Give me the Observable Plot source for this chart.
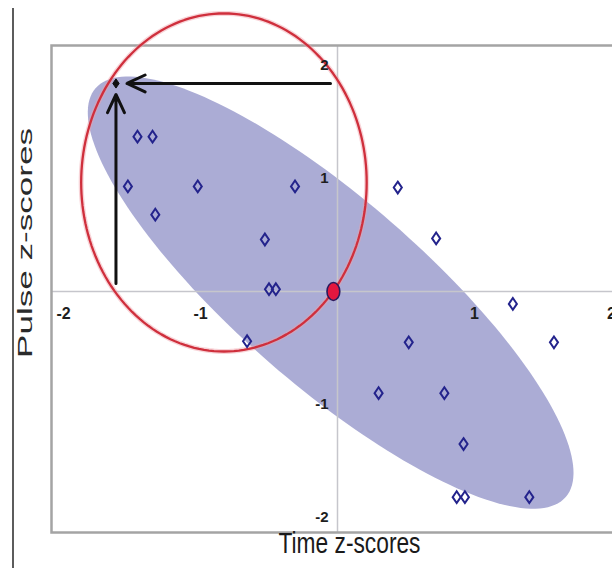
<!DOCTYPE html>
<html>
<head>
<meta charset="utf-8">
<script src="https://cdn.jsdelivr.net/npm/d3@7"></script>
<script src="https://cdn.jsdelivr.net/npm/@observablehq/plot@0.6"></script>
<style>
  body { margin: 0; background: #fff; }
  #wrap { position: relative; width: 612px; height: 568px; overflow: hidden; }
  #edge { position: absolute; left: 12px; top: 8px; bottom: 0; border-left: 2px solid #5c5c5c; }
</style>
</head>
<body>
<div id="wrap"><div id="edge"></div></div>
<script>
// Standardised scores for each case
const timeZ  = [-1.46, -1.35, -1.53, -1.02, -0.31, -1.33, -0.53, -0.50, -0.45, 0.44, 0.72,
                 1.28,  0.52,  1.58,  0.30,  0.78,  0.92,  0.87,  0.93,  1.40, -0.66];
const pulseZ = [ 1.37,  1.37,  0.93,  0.93,  0.93,  0.68,  0.46,  0.02,  0.02, 0.92, 0.47,
                -0.11, -0.45, -0.45, -0.90, -0.90, -1.35, -1.82, -1.82, -1.82, -0.44];

// Highlighted case and the centroid
const targetTime = -1.617, targetPulse = 1.841;
const centroidTime = -0.03, centroidPulse = 0;

// Axis tick labels and titles
const xTicks = [-2, -1, 1, 2];
const yTicks = [-2, -1, 1, 2];
const xTitle = "Time z-scores";
const yTitle = "Pulse z-scores";

// Spread ellipse: centre and two conjugate semi-diameters (z units)
const spreadCenter = [-0.05, -0.01];
const spreadAxisA  = [1.716, -1.809];
const spreadAxisB  = [-0.445, -0.621];

// Neighbourhood ring around the highlighted case (z units)
const ringCenter = [-0.829, 0.965];
const ringRadii  = [1.042, 1.496];

const points = timeZ.map((t, i) => ({time: t, pulse: pulseZ[i]}));
const target = [{time: targetTime, pulse: targetPulse}];
const centroid = [{time: centroidTime, pulse: centroidPulse}];

const angles = d3.range(0, 360, 2).map(a => a * Math.PI / 180);
const spreadOutline = angles.map(a => ({
  time:  spreadCenter[0] + spreadAxisA[0] * Math.cos(a) + spreadAxisB[0] * Math.sin(a),
  pulse: spreadCenter[1] + spreadAxisA[1] * Math.cos(a) + spreadAxisB[1] * Math.sin(a)
}));
const ringOutline = angles.map(a => ({
  time:  ringCenter[0] + ringRadii[0] * Math.cos(a),
  pulse: ringCenter[1] + ringRadii[1] * Math.sin(a)
}));

// Tall rhombus marker
const rhombus = {
  draw(ctx, size) {
    const r = Math.sqrt(size / Math.PI), w = r * 0.72, h = r * 1.05;
    ctx.moveTo(0, -h); ctx.lineTo(w, 0); ctx.lineTo(0, h); ctx.lineTo(-w, 0); ctx.closePath();
  }
};
// Tall oval marker
const oval = {
  draw(ctx, size) {
    const r = Math.sqrt(size / Math.PI), w = r * 0.8, h = r * 1.12, k = 0.5523;
    ctx.moveTo(0, -h);
    ctx.bezierCurveTo(k * w, -h, w, -k * h, w, 0);
    ctx.bezierCurveTo(w, k * h, k * w, h, 0, h);
    ctx.bezierCurveTo(-k * w, h, -w, k * h, -w, 0);
    ctx.bezierCurveTo(-w, -k * h, -k * w, -h, 0, -h);
    ctx.closePath();
  }
};

const tickFont = "'Liberation Sans Narrow', 'Arial Narrow', 'Liberation Sans', sans-serif";

const chart = Plot.plot({
  width: 612,
  height: 568,
  marginLeft: 51,
  marginRight: -11,
  marginTop: 45,
  marginBottom: 36,
  style: {background: "transparent", overflow: "visible"},
  x: {domain: [-2.0876, 2.0876], axis: null},
  y: {domain: [-2.133, 2.177], axis: null},
  marks: [
    Plot.line(spreadOutline, {x: "time", y: "pulse", curve: "linear-closed",
      fill: "#abacd5", stroke: "none"}),
    Plot.ruleX([0], {stroke: "#c6c6cc", strokeWidth: 1.5}),
    Plot.ruleY([0], {stroke: "#c6c6cc", strokeWidth: 1.5}),
    Plot.frame({stroke: "#a4a4a4", strokeWidth: 2.5}),
    Plot.line(ringOutline, {x: "time", y: "pulse", curve: "linear-closed",
      stroke: "#f0a0a8", strokeWidth: 5, strokeOpacity: 0.45}),
    Plot.line(ringOutline, {x: "time", y: "pulse", curve: "linear-closed",
      stroke: "#cf2f3c", strokeWidth: 2.3}),
    Plot.dot(points, {x: "time", y: "pulse", symbol: rhombus, r: 5.6,
      stroke: "#23238c", strokeWidth: 2, fill: "none"}),
    Plot.arrow(target, {x1: 0, y1: "pulse", x2: "time", y2: "pulse",
      insetStart: 7, insetEnd: 11, headLength: 10, headAngle: 50,
      stroke: "#111", strokeWidth: 3}),
    Plot.arrow(target, {x1: "time", y1: 0, x2: "time", y2: "pulse",
      insetStart: 8, insetEnd: 11, headLength: 10, headAngle: 50,
      stroke: "#111", strokeWidth: 3}),
    Plot.dot(target, {x: "time", y: "pulse", symbol: rhombus, r: 4.4,
      fill: "#111", stroke: "#111", strokeWidth: 1}),
    Plot.dot(centroid, {x: "time", y: "pulse", symbol: oval, r: 8,
      fill: "#e3173e", stroke: "#2b1b5c", strokeWidth: 1.6}),
    Plot.text(xTicks, {x: d => d, y: 0, text: d => String(d), dy: 22,
      fontSize: 16, fontWeight: "bold", fill: "#1e1e1e", fontFamily: tickFont}),
    Plot.text(yTicks, {x: 0, y: d => d, text: d => String(d), dx: -9, textAnchor: "end",
      fontSize: 15, fontWeight: "bold", fill: "#1e1e1e", fontFamily: tickFont}),
    Plot.text([xTitle], {frameAnchor: "bottom", textAnchor: "start", dx: -59, dy: 20,
      fontSize: 29, fill: "#1a1a1a", fontFamily: tickFont}),
    Plot.text([yTitle], {frameAnchor: "left", rotate: -90, textAnchor: "start", dx: -26, dy: 69,
      fontSize: 21, fill: "#2a2a2a", fontFamily: "'Liberation Sans', Arial, sans-serif"})
  ]
});

document.getElementById("wrap").appendChild(chart);
chart.style.position = "absolute";
chart.style.left = "0";
chart.style.top = "0";

// Condense the axis titles to their drawn lengths
const fit = (label, len) => {
  for (const t of chart.querySelectorAll("text")) {
    if (t.textContent.trim() === label) {
      t.setAttribute("textLength", len);
      t.setAttribute("lengthAdjust", "spacingAndGlyphs");
    }
  }
};
fit(xTitle, 142);
fit(yTitle, 230);
</script>
</body>
</html>
